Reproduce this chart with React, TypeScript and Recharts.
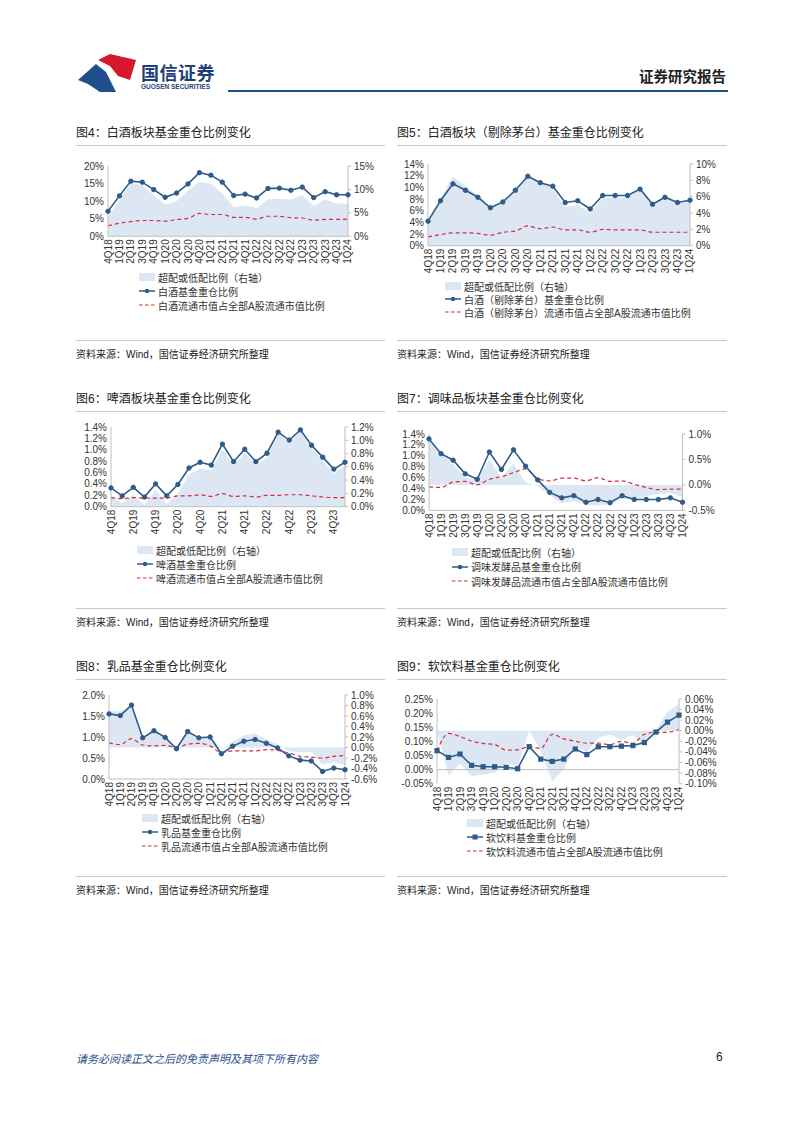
import React from "react";
import { ComposedChart, Area, Line, XAxis, YAxis, ReferenceLine } from "recharts";

const quarters = [
  "4Q18", "1Q19", "2Q19", "3Q19", "4Q19", "1Q20", "2Q20", "3Q20", "4Q20", "1Q21", "2Q21",
  "3Q21", "4Q21", "1Q22", "2Q22", "3Q22", "4Q22", "1Q23", "2Q23", "3Q23", "4Q23", "1Q24",
];

// 图4 白酒
const baijiuFund = [7.1, 11.5, 15.7, 15.4, 13.3, 11.1, 12.3, 14.9, 18.1, 17.4, 15.4, 11.6, 12.0, 10.9, 13.6, 13.7, 13.1, 14.0, 11.0, 12.7, 11.8, 11.8];
const baijiuMarket = [3.0, 3.7, 4.2, 4.5, 4.5, 4.3, 4.8, 5.1, 6.5, 6.2, 6.2, 5.4, 5.4, 4.9, 5.7, 5.7, 5.3, 5.2, 4.6, 4.8, 4.8, 4.9];
const baijiuOver = [4.1, 7.8, 11.5, 10.9, 8.8, 6.8, 7.5, 9.8, 11.6, 11.2, 9.2, 6.2, 6.6, 6.0, 7.9, 8.0, 7.8, 8.8, 6.4, 7.9, 7.0, 6.9];

// 图5 白酒（剔除茅台）
const exMaotaiFund = [4.2, 7.7, 10.6, 9.5, 8.3, 6.5, 7.5, 9.5, 11.9, 10.8, 10.2, 7.4, 7.7, 6.3, 8.6, 8.6, 8.6, 9.7, 7.1, 8.3, 7.4, 7.8];
const exMaotaiMarket = [1.5, 1.9, 2.2, 2.2, 2.1, 1.8, 2.3, 2.5, 3.4, 2.9, 3.2, 2.7, 2.7, 2.3, 2.8, 2.7, 2.7, 2.7, 2.3, 2.3, 2.3, 2.3];
const exMaotaiOver = [2.7, 5.8, 8.4, 7.3, 6.2, 4.7, 5.2, 7.0, 8.5, 7.9, 7.0, 4.7, 5.0, 4.0, 5.8, 5.9, 5.9, 7.0, 4.8, 6.0, 5.1, 5.5];

// 图6 啤酒
const beerFund = [0.33, 0.19, 0.34, 0.17, 0.40, 0.19, 0.39, 0.68, 0.78, 0.73, 1.10, 0.79, 1.01, 0.79, 0.94, 1.31, 1.17, 1.35, 1.08, 0.87, 0.66, 0.78];
const beerMarket = [0.16, 0.14, 0.16, 0.15, 0.15, 0.15, 0.19, 0.19, 0.21, 0.18, 0.23, 0.18, 0.19, 0.17, 0.20, 0.20, 0.21, 0.21, 0.19, 0.17, 0.16, 0.16];
const beerOver = [0.17, 0.05, 0.18, 0.02, 0.25, 0.04, 0.20, 0.49, 0.57, 0.55, 0.87, 0.61, 0.82, 0.62, 0.74, 1.11, 0.96, 1.14, 0.89, 0.70, 0.50, 0.62];

// 图7 调味品
const seasonFund = [1.31, 1.04, 0.92, 0.67, 0.57, 1.07, 0.75, 1.11, 0.81, 0.56, 0.33, 0.23, 0.27, 0.15, 0.20, 0.14, 0.27, 0.20, 0.20, 0.20, 0.23, 0.15];
const seasonMarket = [0.43, 0.42, 0.52, 0.53, 0.47, 0.57, 0.62, 0.69, 0.76, 0.58, 0.54, 0.59, 0.59, 0.54, 0.60, 0.53, 0.54, 0.48, 0.42, 0.38, 0.39, 0.39];
const seasonOver = [0.88, 0.62, 0.40, 0.14, 0.10, 0.50, 0.13, 0.42, 0.05, -0.02, -0.21, -0.36, -0.32, -0.39, -0.40, -0.39, -0.27, -0.28, -0.22, -0.18, -0.16, -0.24];

// 图8 乳品
const dairyFund = [1.55, 1.51, 1.76, 0.98, 1.15, 0.99, 0.72, 1.13, 0.98, 1.00, 0.60, 0.78, 0.90, 0.94, 0.85, 0.74, 0.55, 0.45, 0.43, 0.18, 0.26, 0.22];
const dairyMarket = [0.86, 0.82, 0.96, 0.81, 0.79, 0.80, 0.75, 0.83, 0.85, 0.79, 0.63, 0.67, 0.67, 0.67, 0.70, 0.68, 0.62, 0.54, 0.52, 0.50, 0.54, 0.56];
const dairyOver = [0.69, 0.69, 0.80, 0.17, 0.36, 0.19, -0.03, 0.30, 0.13, 0.21, -0.03, 0.11, 0.23, 0.27, 0.15, 0.06, -0.07, -0.09, -0.09, -0.32, -0.28, -0.34];

// 图9 软饮料
const drinkFund = [0.067, 0.043, 0.055, 0.015, 0.010, 0.010, 0.008, 0.003, 0.081, 0.037, 0.029, 0.037, 0.073, 0.053, 0.081, 0.081, 0.083, 0.085, 0.096, 0.133, 0.168, 0.193];
const drinkMarket = [0.066, 0.128, 0.117, 0.101, 0.093, 0.089, 0.069, 0.070, 0.081, 0.075, 0.125, 0.109, 0.100, 0.094, 0.094, 0.088, 0.100, 0.093, 0.125, 0.132, 0.132, 0.143];
const drinkOver = [0.001, -0.085, -0.062, -0.086, -0.083, -0.079, -0.061, -0.067, 0.0, -0.038, -0.096, -0.072, -0.027, -0.041, -0.013, -0.007, -0.017, -0.008, -0.029, 0.001, 0.036, 0.050];

const FONT = "'Liberation Sans', Arial, 'Noto Sans CJK SC', sans-serif";
const BLUE = "#2e5b8a";
const RED = "#d62b3d";
const FILL = "#dde7f3";
const AXIS = "#bfbfbf";
const TEXT = "#333333";

const buildRows = (fund: number[], market: number[], over: number[]) =>
  quarters.map((q, i) => ({ q, fund: fund[i], market: market[i], over: over[i] }));

const pct = (d: number) => (v: number) => `${Number(v).toFixed(d)}%`;

const QuarterTick = (props: any) => {
  const { x, y, payload } = props;
  return (
    <g transform={`translate(${x},${y})`}>
      <text transform="rotate(-90)" x={0} y={0} dy={3.5} textAnchor="end" fontSize={10} fill={TEXT} fontFamily={FONT}>
        {payload.value}
      </text>
    </g>
  );
};

const SquareDot = (p: any) => (
  <rect key={`sq-${p.index}`} x={p.cx - 2.6} y={p.cy - 2.6} width={5.2} height={5.2} fill={BLUE} />
);

type Panel = {
  title: string;
  x0: number;
  x1: number;
  titleY: number;
  sourceY: number;
  plot: [number, number, number, number];
  rows: any[];
  leftDomain: [number, number];
  leftTicks: number[];
  leftDec: number;
  rightDomain: [number, number];
  rightTicks: number[];
  rightDec: number;
  interval: number;
  square?: boolean;
  zeroLine?: boolean;
  legend: string[];
  legendX: number;
  legendY: number;
  legendStep: number;
};

const panels: Panel[] = [
  {
    title: "图4：白酒板块基金重仓比例变化",
    x0: 76, x1: 385, titleY: 131, sourceY: 353,
    plot: [108, 348, 165.7, 236],
    rows: buildRows(baijiuFund, baijiuMarket, baijiuOver),
    leftDomain: [0, 20], leftTicks: [0, 5, 10, 15, 20], leftDec: 0,
    rightDomain: [0, 15], rightTicks: [0, 5, 10, 15], rightDec: 0,
    interval: 0,
    legend: ["超配或低配比例（右轴）", "白酒基金重仓比例", "白酒流通市值占全部A股流通市值比例"],
    legendX: 139, legendY: 277, legendStep: 14,
  },
  {
    title: "图5：白酒板块（剔除茅台）基金重仓比例变化",
    x0: 397, x1: 727, titleY: 131, sourceY: 353,
    plot: [428, 690, 164, 245.7],
    rows: buildRows(exMaotaiFund, exMaotaiMarket, exMaotaiOver),
    leftDomain: [0, 14], leftTicks: [0, 2, 4, 6, 8, 10, 12, 14], leftDec: 0,
    rightDomain: [0, 10], rightTicks: [0, 2, 4, 6, 8, 10], rightDec: 0,
    interval: 0,
    legend: ["超配或低配比例（右轴）", "白酒（剔除茅台）基金重仓比例", "白酒（剔除茅台）流通市值占全部A股流通市值比例"],
    legendX: 445, legendY: 286, legendStep: 13,
  },
  {
    title: "图6：啤酒板块基金重仓比例变化",
    x0: 76, x1: 385, titleY: 397, sourceY: 621,
    plot: [111, 345, 427.3, 507],
    rows: buildRows(beerFund, beerMarket, beerOver),
    leftDomain: [0, 1.4], leftTicks: [0, 0.2, 0.4, 0.6, 0.8, 1.0, 1.2, 1.4], leftDec: 1,
    rightDomain: [0, 1.2], rightTicks: [0, 0.2, 0.4, 0.6, 0.8, 1.0, 1.2], rightDec: 1,
    interval: 1,
    legend: ["超配或低配比例（右轴）", "啤酒基金重仓比例", "啤酒流通市值占全部A股流通市值比例"],
    legendX: 137, legendY: 550, legendStep: 14,
  },
  {
    title: "图7：调味品板块基金重仓比例变化",
    x0: 397, x1: 727, titleY: 397, sourceY: 621,
    plot: [429, 682.5, 434.3, 510.7],
    rows: buildRows(seasonFund, seasonMarket, seasonOver),
    leftDomain: [0, 1.4], leftTicks: [0, 0.2, 0.4, 0.6, 0.8, 1.0, 1.2, 1.4], leftDec: 1,
    rightDomain: [-0.5, 1.0], rightTicks: [-0.5, 0, 0.5, 1.0], rightDec: 1,
    interval: 0,
    legend: ["超配或低配比例（右轴）", "调味发酵品基金重仓比例", "调味发酵品流通市值占全部A股流通市值比例"],
    legendX: 452, legendY: 552, legendStep: 14.5,
  },
  {
    title: "图8：乳品基金重仓比例变化",
    x0: 76, x1: 385, titleY: 665, sourceY: 889,
    plot: [108.5, 344.5, 695, 779],
    rows: buildRows(dairyFund, dairyMarket, dairyOver),
    leftDomain: [0, 2.0], leftTicks: [0, 0.5, 1.0, 1.5, 2.0], leftDec: 1,
    rightDomain: [-0.6, 1.0], rightTicks: [-0.6, -0.4, -0.2, 0, 0.2, 0.4, 0.6, 0.8, 1.0], rightDec: 1,
    interval: 0,
    legend: ["超配或低配比例（右轴）", "乳品基金重仓比例", "乳品流通市值占全部A股流通市值比例"],
    legendX: 142, legendY: 818, legendStep: 14,
  },
  {
    title: "图9：软饮料基金重仓比例变化",
    x0: 397, x1: 727, titleY: 665, sourceY: 889,
    plot: [436.5, 678.5, 699, 783.7],
    rows: buildRows(drinkFund, drinkMarket, drinkOver),
    leftDomain: [-0.05, 0.25], leftTicks: [-0.05, 0, 0.05, 0.1, 0.15, 0.2, 0.25], leftDec: 2,
    rightDomain: [-0.1, 0.06], rightTicks: [-0.1, -0.08, -0.06, -0.04, -0.02, 0, 0.02, 0.04, 0.06], rightDec: 2,
    interval: 0, square: true, zeroLine: true,
    legend: ["超配或低配比例（右轴）", "软饮料基金重仓比例", "软饮料流通市值占全部A股流通市值比例"],
    legendX: 467, legendY: 823, legendStep: 14,
  },
];

const AXIS_W = 45;
const TOP_M = 8;
const X_H = 40;

const LegendSymbol = ({ kind, square }: { kind: number; square?: boolean }) => {
  if (kind === 0) return <div style={{ width: 16, height: 8, background: FILL }} />;
  return (
    <svg width={16} height={8}>
      {kind === 1 ? (
        <>
          <line x1={0} y1={4} x2={16} y2={4} stroke={BLUE} strokeWidth={1.5} />
          {square ? <rect x={5.5} y={1.5} width={5} height={5} fill={BLUE} /> : <circle cx={8} cy={4} r={2.2} fill={BLUE} />}
        </>
      ) : (
        <line x1={0} y1={4} x2={16} y2={4} stroke={RED} strokeWidth={1.2} strokeDasharray="3.5 2.5" />
      )}
    </svg>
  );
};

const PanelView = ({ p }: { p: Panel }) => {
  const [pl, pr, pt, pb] = p.plot;
  const width = pr - pl + AXIS_W * 2;
  const height = pb - pt + TOP_M + X_H;
  return (
    <>
      <div style={{ position: "absolute", left: p.x0, top: p.titleY - 8, fontSize: 12, color: "#222", whiteSpace: "nowrap" }}>
        {p.title}
      </div>
      <div style={{ position: "absolute", left: p.x0, top: p.titleY + 14, width: p.x1 - p.x0, height: 1, background: "#c8c8c8" }} />
      <div style={{ position: "absolute", left: pl - AXIS_W, top: pt - TOP_M }}>
        <ComposedChart width={width} height={height} data={p.rows} margin={{ top: TOP_M, right: 0, bottom: 0, left: 0 }}>
          <XAxis
            dataKey="q"
            xAxisId="x"
            interval={p.interval}
            height={X_H}
            tick={<QuarterTick />}
            tickLine={false}
            tickSize={0}
            tickMargin={3}
            axisLine={p.zeroLine ? false : { stroke: AXIS }}
          />
          <YAxis
            yAxisId="left"
            orientation="left"
            width={AXIS_W}
            domain={p.leftDomain}
            ticks={p.leftTicks}
            interval={0}
            tickFormatter={pct(p.leftDec)}
            tick={{ fontSize: 10, fill: TEXT, fontFamily: FONT }}
            tickLine={false}
            tickSize={3}
            tickMargin={1}
            axisLine={{ stroke: AXIS }}
            allowDataOverflow
          />
          <YAxis
            yAxisId="right"
            orientation="right"
            width={AXIS_W}
            domain={p.rightDomain}
            ticks={p.rightTicks}
            interval={0}
            tickFormatter={pct(p.rightDec)}
            tick={{ fontSize: 10, fill: TEXT, fontFamily: FONT }}
            tickLine={{ stroke: AXIS }}
            tickSize={3}
            tickMargin={3}
            axisLine={{ stroke: AXIS }}
            allowDataOverflow
          />
          <Area
            xAxisId="x"
            yAxisId="right"
            dataKey="over"
            type="linear"
            baseValue={0}
            fill={FILL}
            fillOpacity={1}
            stroke="none"
            isAnimationActive={false}
          />
          {p.zeroLine && <ReferenceLine xAxisId="x" yAxisId="left" y={0} stroke={AXIS} />}
          <Line
            xAxisId="x"
            yAxisId="left"
            dataKey="market"
            type="monotone"
            stroke={RED}
            strokeWidth={1.2}
            strokeDasharray="4 3"
            dot={false}
            activeDot={false}
            isAnimationActive={false}
          />
          <Line
            xAxisId="x"
            yAxisId="left"
            dataKey="fund"
            type="linear"
            stroke={BLUE}
            strokeWidth={1.6}
            dot={p.square ? SquareDot : { r: 2.2, fill: BLUE, stroke: BLUE, strokeWidth: 1 }}
            activeDot={false}
            isAnimationActive={false}
          />
        </ComposedChart>
      </div>
      {p.legend.map((label, i) => (
        <div
          key={label}
          style={{
            position: "absolute",
            left: p.legendX,
            top: p.legendY + i * p.legendStep - 7,
            height: 14,
            display: "flex",
            alignItems: "center",
            gap: 3,
            fontSize: 10,
            color: TEXT,
            whiteSpace: "nowrap",
          }}
        >
          <LegendSymbol kind={i} square={p.square} />
          <span>{label}</span>
        </div>
      ))}
      <div style={{ position: "absolute", left: p.x0, top: p.sourceY - 13, width: p.x1 - p.x0, height: 1, background: "#c8c8c8" }} />
      <div style={{ position: "absolute", left: p.x0, top: p.sourceY - 7, fontSize: 10, color: "#222", whiteSpace: "nowrap" }}>
        资料来源：Wind，国信证券经济研究所整理
      </div>
    </>
  );
};

const Logo = () => (
  <svg width={62} height={40} style={{ position: "absolute", left: 76, top: 54 }}>
    <polygon points="2,26 20,10 30,18 40,38 24,38 12,30" fill="#1f4e8c" />
    <polygon points="22,6 34,0 60,6 54,26 42,22 34,12" fill="#d7182a" />
  </svg>
);

export default function App() {
  return (
    <div
      style={{
        position: "absolute",
        left: 0,
        top: 0,
        width: 802,
        height: 1133,
        background: "#fff",
        fontFamily: FONT,
        overflow: "hidden",
      }}
    >
      <Logo />
      <div style={{ position: "absolute", left: 141, top: 59, fontSize: 18, fontWeight: 700, color: "#1f3f78", letterSpacing: 0.5 }}>
        国信证券
      </div>
      <div style={{ position: "absolute", left: 141, top: 83, fontSize: 6.5, fontWeight: 700, color: "#1f3f78", whiteSpace: "nowrap" }}>
        GUOSEN SECURITIES
      </div>
      <div style={{ position: "absolute", left: 639, top: 65, fontSize: 14.5, fontWeight: 700, color: "#222" }}>
        证券研究报告
      </div>
      <div style={{ position: "absolute", left: 228, top: 90, width: 500, height: 2, background: "#1f4e8c" }} />

      {panels.map((p) => (
        <PanelView key={p.title} p={p} />
      ))}

      <div style={{ position: "absolute", left: 76, top: 1050, fontSize: 11, fontStyle: "italic", color: "#1f4e8c" }}>
        请务必阅读正文之后的免责声明及其项下所有内容
      </div>
      <div style={{ position: "absolute", left: 716, top: 1050, fontSize: 12, color: "#222" }}>6</div>
    </div>
  );
}
